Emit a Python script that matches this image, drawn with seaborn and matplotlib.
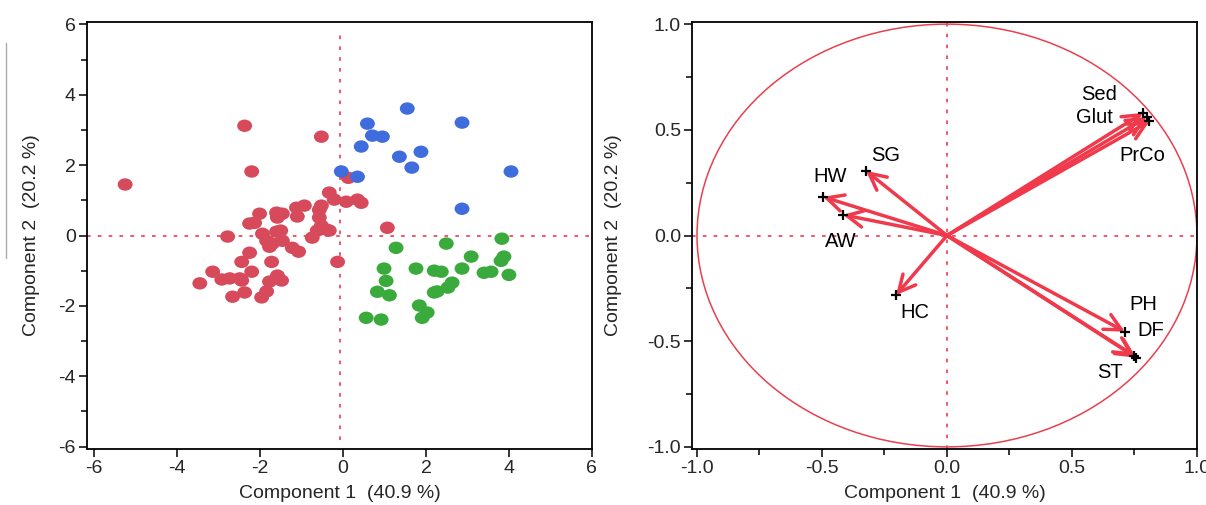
import matplotlib
matplotlib.use("Agg")
import matplotlib.pyplot as plt
import seaborn as sns
import numpy as np
import pandas as pd
from matplotlib.patches import Circle
from matplotlib.path import Path
from matplotlib.transforms import Affine2D
from matplotlib.lines import Line2D
from matplotlib.ticker import MultipleLocator

# scores (left panel)
red_x = [-5.25, -2.37, -0.52, -2.20, 0.13, -0.33, -0.21, 0.08, 0.35, 0.44, 1.07,
         -2.01, -2.25, -2.13, -1.60, -1.46, -1.58, -1.12, -0.93, -1.10, -0.52, -0.57,
         -0.57, -0.52, -0.62, -0.40, -0.33, -2.78, -0.74, -1.94, -1.60, -1.50, -1.84,
         -1.77, -1.70, -1.46, -1.22, -1.07, -2.25, -2.44, -1.72, -0.13, -3.14, -2.20,
         -2.92, -2.73, -2.49, -2.44, -3.45, -1.58, -1.48, -1.77, -1.84, -1.96, -2.37,
         -2.66]
red_y = [1.45, 3.12, 2.81, 1.82, 1.64, 1.22, 1.02, 0.96, 1.02, 0.93, 0.22,
         0.62, 0.34, 0.36, 0.65, 0.62, 0.51, 0.79, 0.85, 0.54, 0.85, 0.73,
         0.51, 0.28, 0.14, 0.17, 0.14, -0.03, -0.06, 0.05, 0.11, 0.14, -0.15,
         -0.32, -0.23, -0.15, -0.35, -0.46, -0.49, -0.75, -0.75, -0.75, -1.03, -1.03,
         -1.25, -1.22, -1.22, -1.28, -1.36, -1.14, -1.28, -1.31, -1.59, -1.76, -1.62,
         -1.74]
blue_x = [1.55, 0.59, 2.87, 0.71, 0.95, 0.44, 1.36, 1.88, 1.66, -0.04, 0.35, 4.05, 2.87]
blue_y = [3.61, 3.18, 3.21, 2.84, 2.81, 2.53, 2.24, 2.38, 1.93, 1.82, 1.67, 1.82, 0.76]
green_x = [3.83, 2.49, 1.28, 3.09, 3.88, 3.81, 0.99, 1.76, 2.20, 2.37, 2.87, 3.40, 3.57,
           4.00, 1.04, 2.63, 2.53, 0.83, 1.12, 2.20, 2.27, 1.84, 2.03, 1.91, 0.56, 0.92]
green_y = [-0.09, -0.23, -0.35, -0.60, -0.60, -0.72, -0.94, -0.94, -1.00, -1.03, -0.94,
           -1.06, -1.03, -1.12, -1.29, -1.34, -1.48, -1.60, -1.70, -1.62, -1.59, -1.99,
           -2.19, -2.34, -2.34, -2.39]

# loadings (right panel)
var_names = ["SG", "HW", "AW", "HC", "Sed", "Glut", "PrCo", "PH", "DF", "ST"]
load_x = [-0.324, -0.496, -0.416, -0.204, 0.784, 0.800, 0.810, 0.712, 0.750, 0.757]
load_y = [0.306, 0.183, 0.098, -0.282, 0.580, 0.560, 0.540, -0.455, -0.570, -0.578]
label_x = [-0.244, -0.468, -0.424, -0.128, 0.608, 0.588, 0.780, 0.784, 0.816, 0.652]
label_y = [0.377, 0.280, -0.030, -0.362, 0.667, 0.557, 0.377, -0.325, -0.448, -0.648]

xlab = "Component 1  (40.9 %)"
ylab = "Component 2  (20.2 %)"

sns.set_style("ticks")
plt.rcParams["font.family"] = ["Liberation Sans", "DejaVu Sans"]
plt.rcParams["axes.unicode_minus"] = False

scores = pd.DataFrame({
    "x": red_x + blue_x + green_x,
    "y": red_y + blue_y + green_y,
    "group": ["red"] * len(red_x) + ["blue"] * len(blue_x) + ["green"] * len(green_x),
})
pal = {"red": "#D64A5B", "blue": "#3F6DDD", "green": "#3AAA3C"}
dot = Path.circle().transformed(Affine2D().scale(1.2, 1.0))

fig = plt.figure(figsize=(12.06, 5.05), dpi=100)
ax1 = fig.add_axes([0.0721, 0.1109, 0.4187, 0.8455])
ax2 = fig.add_axes([0.5738, 0.1109, 0.4187, 0.8455])

refcol = "#F04A5E"
dash = (0, (2, 4))

# left: scores
ax1.axhline(0, color=refcol, lw=1.3, ls=dash, zorder=1)
ax1.axvline(-0.08, ymin=0.02, ymax=0.98, color=refcol, lw=1.3, ls=dash, zorder=1)
sns.scatterplot(data=scores, x="x", y="y", hue="group", palette=pal, marker=dot,
                s=115, linewidth=0, legend=False, ax=ax1, zorder=3)
ax1.set_xlim(-6.17, 6.0)
ax1.set_ylim(-6.07, 6.07)
ax1.xaxis.set_major_locator(MultipleLocator(2))
ax1.yaxis.set_major_locator(MultipleLocator(2))
ax1.yaxis.set_minor_locator(MultipleLocator(1))

# right: loadings
ax2.axhline(0, color=refcol, lw=1.3, ls=dash, zorder=1)
ax2.axvline(0, color=refcol, lw=1.3, ls=dash, zorder=1)
ax2.add_patch(Circle((0, 0), 1.0, fill=False, color="#E8404F", lw=1.1))
arrcol = "#F03A4C"
for lx, ly in zip(load_x, load_y):
    ax2.annotate("", xy=(lx, ly), xytext=(0, 0),
                 arrowprops=dict(arrowstyle="->", color=arrcol, lw=2.5,
                                 mutation_scale=30, shrinkA=0, shrinkB=0))
sns.scatterplot(x=load_x, y=load_y, marker="+", color="black", s=45,
                linewidth=1.6, ax=ax2, zorder=4)
for name, tx, ty in zip(var_names, label_x, label_y):
    ax2.text(tx, ty, name, ha="center", va="center", fontsize=14.5, color="black")
ax2.set_xlim(-1.02, 1.0)
ax2.set_ylim(-1.01, 1.01)
ax2.xaxis.set_major_locator(MultipleLocator(0.5))
ax2.xaxis.set_minor_locator(MultipleLocator(0.25))
ax2.yaxis.set_major_locator(MultipleLocator(0.5))
ax2.yaxis.set_minor_locator(MultipleLocator(0.25))
ax2.xaxis.set_major_formatter(lambda v, p: f"{v:.1f}")
ax2.yaxis.set_major_formatter(lambda v, p: f"{v:.1f}")

for ax in (ax1, ax2):
    for sp in ax.spines.values():
        sp.set_linewidth(1.3)
        sp.set_color("black")
    ax.tick_params(which="major", length=6, width=1.3, labelsize=14, direction="out", pad=2)
    ax.tick_params(which="minor", length=4, width=1.3, direction="out")
    ax.set_xlabel(xlab, fontsize=14, labelpad=6)
ax1.set_ylabel(ylab, fontsize=14, labelpad=13)
ax2.set_ylabel(ylab, fontsize=14, labelpad=18)

# stray grey rule at the far left edge of the original
fig.add_artist(Line2D([0.005, 0.005], [0.49, 0.915], color="#AAAAAA", lw=1))

fig.savefig("out.png", dpi=100)
